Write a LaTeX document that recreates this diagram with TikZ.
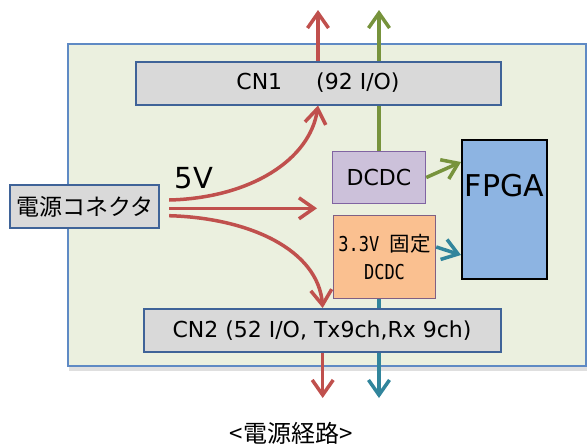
\documentclass[tikz,border=0pt]{standalone}
\usepackage{fontspec}
\setmainfont{DejaVu Sans}
\newfontfamily\jpfont{Noto Sans CJK JP}
\newfontfamily\narrowmono[FakeStretch=0.83]{DejaVu Sans Mono}
\usetikzlibrary{arrows.meta,shadows}

\definecolor{boardfill}{HTML}{EBF0DF}
\definecolor{boardline}{HTML}{5F8AC4}
\definecolor{cngray}{HTML}{D9D9D9}
\definecolor{cnline}{HTML}{3F6398}
\definecolor{dcdcfill}{HTML}{CCC1DA}
\definecolor{dcdcline}{HTML}{8064A2}
\definecolor{fixfill}{HTML}{FAC090}
\definecolor{fixline}{HTML}{7F6084}
\definecolor{fpgafill}{HTML}{8DB4E2}
\definecolor{redline}{HTML}{C0504D}
\definecolor{greenline}{HTML}{77933C}
\definecolor{tealline}{HTML}{31859C}

\begin{document}
\begin{tikzpicture}[x=1pt,y=-1pt,
  box/.style={draw, line width=2pt, inner sep=0pt},
  cnbox/.style={box, draw=cnline, fill=cngray, minimum height=43pt,
    font=\fontsize{22}{26}\selectfont},
  power/.style={line width=3.5pt, -{Straight Barb[length=15pt,width=21pt]}},
  plain/.style={line width=3.5pt}]
% Parameters
\def\fsize{\fontsize{22}{26}\selectfont}
\useasboundingbox (0,0) rectangle (587,445);

% Board
\draw[line width=2pt, draw=boardline, fill=boardfill,
  drop shadow={shadow xshift=1pt, shadow yshift=-5pt, opacity=0.25}]
  (68,44) rectangle (586,366);

% Blocks
\node[cnbox, minimum width=365pt] (cn1) at (318,83)
  {CN1\hspace{34pt}(92 I/O)\hspace{12pt}};
\node[cnbox, minimum width=357pt] (cn2) at (322,330.5)
  {CN2 (52 I/O, Tx9ch,Rx 9ch)};
\node[box, draw=cnline, fill=cngray, minimum width=149pt, minimum height=43pt,
  font=\jpfont\fontsize{23}{28}\selectfont] (conn) at (84.7,206.5) {電源コネクタ};
\node[box, line width=1.5pt, draw=dcdcline, fill=dcdcfill, minimum width=93pt,
  minimum height=52pt, font=\fsize] (dcdc) at (379,177.5) {DCDC};
\node[box, line width=1.5pt, draw=fixline, fill=fixfill, minimum width=102pt,
  minimum height=83pt, align=center, font=\fontsize{20.5}{28}\selectfont]
  (fixdcdc) at (384.5,257) {{\narrowmono 3.3V }{\jpfont 固定}\\{\narrowmono DCDC}};
\node[box, draw=black, fill=fpgafill, minimum width=85pt, minimum height=139pt,
  label={[name=fpgatext, anchor=center, yshift=-47pt,
  font=\fontsize{30}{36}\selectfont]north:FPGA}] (fpga) at (504.5,209) {};

% Outputs
\coordinate (redtop) at (318,10);
\coordinate (greentop) at (379,10);
\coordinate (redbot) at (322.7,398);
\coordinate (tealbot) at (379,398);
\coordinate (midtip) at (317,208.3);
\draw[power, redline] (redtop |- cn1.north) -- (redtop);
\draw[plain, greenline] (dcdc.north) -- (dcdc.north |- cn1.south);
\draw[power, greenline] (dcdc.north |- cn1.north) -- (greentop);
\draw[power, redline] (redbot |- cn2.south) -- (redbot);
\draw[plain, tealline] (tealbot |- fixdcdc.south) -- (tealbot |- cn2.north);
\draw[power, tealline] (tealbot |- cn2.south) -- (tealbot);

% 5V paths
\draw[power, redline] ([xshift=9pt,yshift=6.5pt]conn.east)
  .. controls (250,198) and (310,160) .. (redtop |- cn1.south);
\draw[power, redline] ([xshift=9pt,yshift=-1.8pt]conn.east) -- (midtip);
\draw[power, redline] ([xshift=9pt,yshift=-9.2pt]conn.east)
  .. controls (250,218) and (318,250) .. (redbot |- cn2.north);
\draw[power, greenline] (dcdc.east) -- ([yshift=47pt]fpga.west);
\draw[power, tealline] ([yshift=10pt]fixdcdc.east) -- ([yshift=-46pt]fpga.west);

% Labels
\node[font=\fontsize{29}{34}\selectfont] (fivev) at (194,178) {5V};
\node[font=\jpfont\fontsize{24}{28}\selectfont] (caption) at (291,433) {<電源経路>};
\end{tikzpicture}
\end{document}
